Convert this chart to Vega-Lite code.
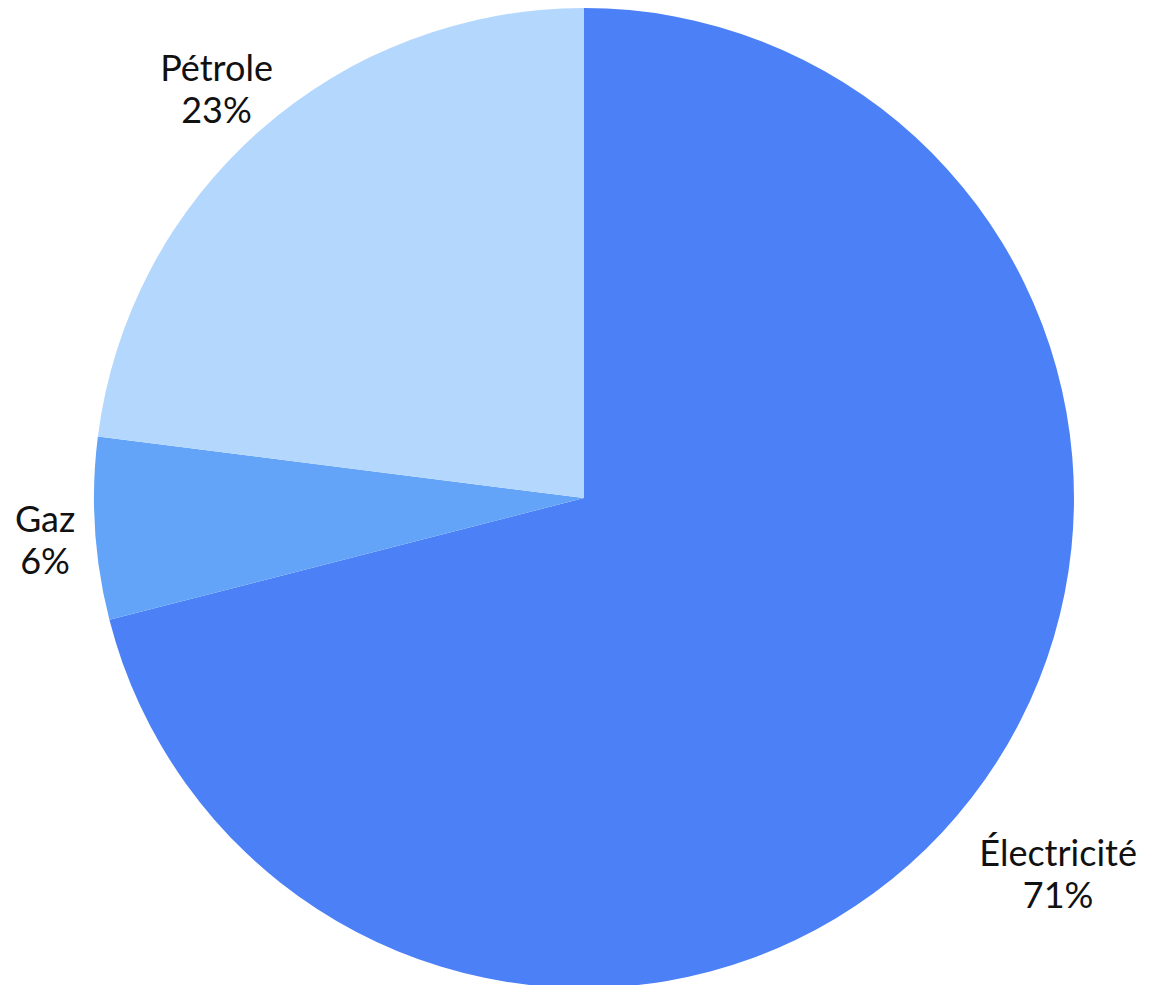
{
  "$schema": "https://vega.github.io/schema/vega-lite/v6.json",
  "width": 1140,
  "height": 974,
  "padding": {"left": 14, "top": 11, "right": 0, "bottom": 0},
  "autosize": {"type": "none"},
  "background": "white",
  "view": {"stroke": null},
  "data": {
    "values": [
      {"rang": 1, "energie": "Électricité", "part": 71, "label": ["Électricité", "71%"]},
      {"rang": 2, "energie": "Gaz", "part": 6, "label": ["Gaz", "6%"]},
      {"rang": 3, "energie": "Pétrole", "part": 23, "label": ["Pétrole", "23%"]}
    ]
  },
  "encoding": {
    "theta": {"field": "part", "type": "quantitative", "stack": true},
    "order": {"field": "rang", "type": "quantitative", "sort": "ascending"}
  },
  "layer": [
    {
      "mark": {"type": "arc", "outerRadius": 490, "stroke": null},
      "encoding": {
        "color": {
          "field": "energie",
          "type": "nominal",
          "sort": null,
          "scale": {"domain": ["Électricité", "Gaz", "Pétrole"], "range": ["#4B80F7", "#63A4F8", "#B4D7FE"]},
          "legend": null
        }
      }
    },
    {
      "mark": {"type": "text", "fontSize": 36, "font": "Lato", "color": "#111111", "lineHeight": 42, "align": "center", "baseline": "middle", "dy": -11},
      "encoding": {
        "text": {"field": "label"},
        "radius": {
          "field": "part",
          "type": "quantitative",
          "scale": {"type": "linear", "zero": false, "domain": [6, 71], "range": [540, 600]}
        }
      }
    }
  ]
}
